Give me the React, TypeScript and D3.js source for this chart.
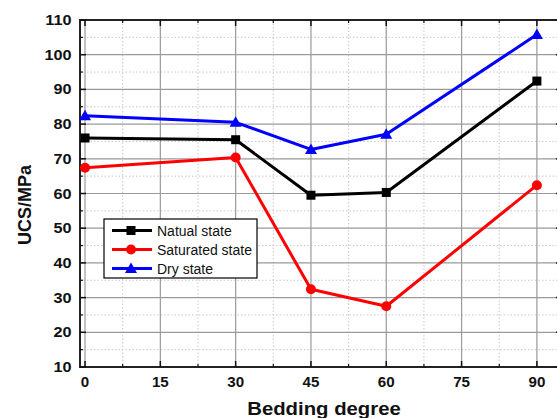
import React from "react";
import * as d3 from "d3";

const angles = [0, 30, 45, 60, 90];
const natural = [76.0, 75.5, 59.5, 60.3, 92.4];
const saturated = [67.4, 70.4, 32.4, 27.5, 62.4];
const dry = [82.4, 80.5, 72.7, 77.1, 105.8];
const seriesNames = ["Natual state", "Saturated state", "Dry state"];
const colors = ["#000000", "#ff0000", "#0000ff"];
const markers = ["square", "circle", "triangle"];
const xTicks = [0, 15, 30, 45, 60, 75, 90];
const yTicks = [10, 20, 30, 40, 50, 60, 70, 80, 90, 100, 110];

const W = 557, H = 418;
const m = { left: 80, top: 20, right: 562, bottom: 367 };

function Marker({ kind, x, y, color }: { kind: string; x: number; y: number; color: string }) {
  if (kind === "square") return <rect x={x - 4.5} y={y - 4.5} width={9} height={9} fill={color} />;
  if (kind === "circle") return <circle cx={x} cy={y} r={5} fill={color} />;
  const s = 6;
  return <path d={`M${x},${y - s}L${x + s},${y + s * 0.75}L${x - s},${y + s * 0.75}Z`} fill={color} />;
}

export default function App() {
  const x = d3.scaleLinear().domain([-1, 95]).range([m.left, m.right]);
  const y = d3.scaleLinear().domain([10, 110]).range([m.bottom, m.top]);
  const data = [natural, saturated, dry];
  const line = d3.line<number>().x((_, i) => x(angles[i])).y((d) => y(d));
  const minorX = d3.range(7.5, 95, 15);
  const minorY = d3.range(15, 110, 10);
  const font = "Liberation Sans, Arial, sans-serif";
  const sx = 1.13;
  return (
    <svg width={W} height={H} style={{ position: "absolute", left: 0, top: 0, background: "#fff" }}>
      <rect width={W} height={H} fill="#fff" />
      {minorX.map((v) => (
        <line key={"mx" + v} x1={x(v)} x2={x(v)} y1={m.top} y2={m.bottom} stroke="#c8c8c8" strokeDasharray="1.5,2" strokeWidth={1} />
      ))}
      {minorY.map((v) => (
        <line key={"my" + v} x1={m.left} x2={m.right} y1={y(v)} y2={y(v)} stroke="#c8c8c8" strokeDasharray="1.5,2" strokeWidth={1} />
      ))}
      {xTicks.map((v) => (
        <line key={"gx" + v} x1={x(v)} x2={x(v)} y1={m.top} y2={m.bottom} stroke="#9a9a9a" strokeWidth={1.2} />
      ))}
      {yTicks.map((v) => (
        <line key={"gy" + v} x1={m.left} x2={m.right} y1={y(v)} y2={y(v)} stroke="#9a9a9a" strokeWidth={1.2} />
      ))}
      <rect x={m.left} y={m.top} width={m.right - m.left} height={m.bottom - m.top} fill="none" stroke="#222" strokeWidth={2} />
      {xTicks.map((v) => (
        <g key={"tx" + v}>
          <line x1={x(v)} x2={x(v)} y1={m.bottom} y2={m.bottom - 6} stroke="#111" strokeWidth={1.5} />
          <line x1={x(v)} x2={x(v)} y1={m.top} y2={m.top + 6} stroke="#111" strokeWidth={1.5} />
          <text transform={`translate(${x(v)},386.5) scale(1.08,1)`} textAnchor="middle" fontFamily={font} fontWeight="bold" fontSize={14} fill="#111">{v}</text>
        </g>
      ))}
      {minorX.map((v) => (
        <g key={"tmx" + v}>
          <line x1={x(v)} x2={x(v)} y1={m.bottom} y2={m.bottom - 3} stroke="#111" strokeWidth={1.2} />
          <line x1={x(v)} x2={x(v)} y1={m.top} y2={m.top + 3} stroke="#111" strokeWidth={1.2} />
        </g>
      ))}
      {yTicks.map((v) => (
        <g key={"ty" + v}>
          <line x1={m.left} x2={m.left + 6} y1={y(v)} y2={y(v)} stroke="#111" strokeWidth={1.5} />
          <line x1={m.right} x2={m.right - 6} y1={y(v)} y2={y(v)} stroke="#111" strokeWidth={1.5} />
          <text transform={`translate(71.5,${y(v) + 5}) scale(1.12,1)`} textAnchor="end" fontFamily={font} fontWeight="bold" fontSize={14.5} fill="#111">{v}</text>
        </g>
      ))}
      {minorY.map((v) => (
        <g key={"tmy" + v}>
          <line x1={m.left} x2={m.left + 3} y1={y(v)} y2={y(v)} stroke="#111" strokeWidth={1.2} />
          <line x1={m.right} x2={m.right - 3} y1={y(v)} y2={y(v)} stroke="#111" strokeWidth={1.2} />
        </g>
      ))}
      {data.map((s, k) => (
        <g key={"s" + k}>
          <path d={line(s) || ""} fill="none" stroke={colors[k]} strokeWidth={3} strokeLinejoin="round" />
          {s.map((v, i) => (
            <Marker key={i} kind={markers[k]} x={x(angles[i])} y={y(v)} color={colors[k]} />
          ))}
        </g>
      ))}
      <rect x={104} y={219} width={153} height={59} fill="#fff" stroke="#000" strokeWidth={1.2} />
      {seriesNames.map((n, k) => {
        const ly = 230.5 + k * 19;
        return (
          <g key={"l" + k}>
            <line x1={112} x2={152} y1={ly} y2={ly} stroke={colors[k]} strokeWidth={3} />
            <Marker kind={markers[k]} x={131} y={ly} color={colors[k]} />
            <text x={157} y={ly + 5} fontFamily={font} fontSize={14} fill="#111">{n}</text>
          </g>
        );
      })}
      <text transform={`translate(324,415) scale(${sx},1)`} textAnchor="middle" fontFamily={font} fontWeight="bold" fontSize={18} fill="#111">Bedding degree</text>
      <text transform={`translate(31,205) rotate(-90)`} textAnchor="middle" fontFamily={font} fontWeight="bold" fontSize={18} fill="#111">UCS/MPa</text>
    </svg>
  );
}
